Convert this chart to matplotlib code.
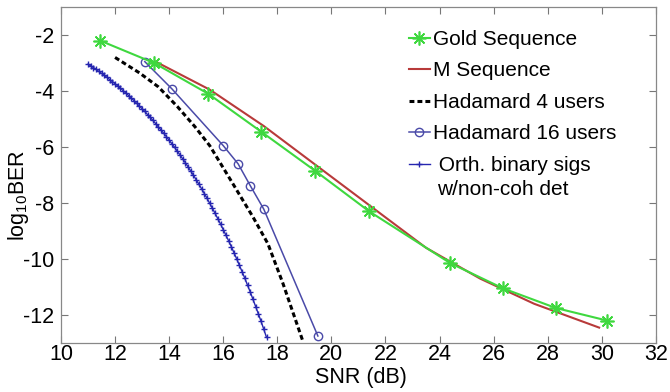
import matplotlib
matplotlib.use("Agg")
import matplotlib.pyplot as plt

plt.rcParams['font.family'] = ['Liberation Sans', 'DejaVu Sans']
plt.rcParams['mathtext.fontset'] = 'custom'
plt.rcParams['mathtext.rm'] = 'Liberation Sans'
plt.rcParams['axes.unicode_minus'] = False

# BER curves, log10 scale
gold_snr = [11.45, 13.45, 15.45, 17.4, 19.4, 21.4, 24.4, 26.35, 28.3, 30.2]
gold_ber = [-2.2, -3.0, -4.1, -5.45, -6.85, -8.3, -10.15, -11.05, -11.75, -12.2]

mseq_snr = [13.5, 15.5, 17.5, 19.5, 21.5, 23.5, 25.5, 27.5, 29.9]
mseq_ber = [-2.95, -3.95, -5.25, -6.7, -8.15, -9.6, -10.7, -11.6, -12.45]

had4_snr = [12.0, 12.9, 13.6, 14.3, 14.95, 15.5, 16.35, 17.1, 17.65, 18.2, 18.95]
had4_ber = [-2.8, -3.35, -3.85, -4.55, -5.27, -5.95, -7.3, -8.5, -9.45, -10.85, -12.95]

had16_snr = [13.1, 14.1, 16.0, 16.55, 17.0, 17.5, 19.5]
had16_ber = [-2.95, -3.92, -5.95, -6.6, -7.38, -8.22, -12.75]

orth_snr = [11.0, 11.1, 11.2, 11.3, 11.4, 11.5, 11.6, 11.7, 11.8, 11.9,
            12.0, 12.1, 12.2, 12.3, 12.4, 12.5, 12.6, 12.7, 12.8, 12.9,
            13.0, 13.1, 13.2, 13.3, 13.4, 13.5, 13.6, 13.7, 13.8, 13.9,
            14.0, 14.1, 14.2, 14.3, 14.4, 14.5, 14.6, 14.7, 14.8, 14.9,
            15.0, 15.1, 15.2, 15.3, 15.4, 15.5, 15.6, 15.7, 15.8, 15.9,
            16.0, 16.1, 16.2, 16.3, 16.4, 16.5, 16.6, 16.7, 16.8, 16.9,
            17.0, 17.1, 17.2, 17.3, 17.4, 17.5, 17.6]
orth_ber = [-3.04, -3.10, -3.16, -3.23, -3.30, -3.37, -3.44, -3.51, -3.59, -3.66,
            -3.74, -3.82, -3.90, -3.99, -4.07, -4.16, -4.25, -4.34, -4.44, -4.54,
            -4.63, -4.73, -4.84, -4.94, -5.05, -5.16, -5.28, -5.39, -5.51, -5.63,
            -5.76, -5.88, -6.01, -6.15, -6.28, -6.42, -6.56, -6.71, -6.86, -7.01,
            -7.17, -7.33, -7.49, -7.66, -7.83, -8.01, -8.19, -8.37, -8.56, -8.75,
            -8.95, -9.15, -9.35, -9.56, -9.78, -10.00, -10.23, -10.46, -10.69, -10.94,
            -11.18, -11.44, -11.70, -11.96, -12.23, -12.51, -12.80]

xticks = [10, 12, 14, 16, 18, 20, 22, 24, 26, 28, 30, 32]
yticks = [-12, -10, -8, -6, -4, -2]

green = '#3fd83f'
red = '#b83a3a'
h16_blue = '#4a4aa8'
orth_blue = '#2626b0'

fig = plt.figure(figsize=(6.7, 3.92), dpi=100)
ax = fig.add_axes([0.091, 0.125, 0.888, 0.857])

ax.plot(gold_snr, gold_ber, color=green, lw=1.5, marker=(8, 2, 0),
        ms=10, mew=1.2, label='Gold Sequence', zorder=4)
ax.plot(mseq_snr, mseq_ber, color=red, lw=1.5, label='M Sequence', zorder=3)
ax.plot(had4_snr, had4_ber, color='black', lw=2.2, ls=(0, (1.6, 1.0)),
        label='Hadamard 4 users')
ax.plot(had16_snr, had16_ber, color=h16_blue, lw=1.1, marker='o', ms=6,
        mfc='none', mew=1.0, label='Hadamard 16 users', zorder=3)
ax.plot(orth_snr, orth_ber, color=orth_blue, lw=1.0, marker='+', ms=5,
        mew=1.0, label=' Orth. binary sigs')

ax.set_xlim(10, 32)
ax.set_ylim(-13, -1)
ax.set_xticks(xticks)
ax.set_yticks(yticks)
ax.tick_params(direction='in', length=5, width=0.8, colors='#777777',
               labelcolor='black', labelsize=15.5, top=True, right=True)
ax.tick_params(axis='x', pad=0.5)
ax.tick_params(axis='y', pad=5)
for sp in ax.spines.values():
    sp.set_color('#888888')
    sp.set_linewidth(0.9)

ax.set_xlabel('SNR (dB)', fontsize=15.5)
ax.set_ylabel(r'log$_{\mathrm{10}}$BER', fontsize=15.5)
ax.xaxis.set_label_coords(0.504, -0.072)
ax.yaxis.set_label_coords(-0.05, 0.44)

leg = ax.legend(loc='upper left', bbox_to_anchor=(0.585, 0.932), frameon=False,
                fontsize=15, handlelength=1.0, handletextpad=0.15,
                labelspacing=0.6, borderpad=0, borderaxespad=0)
ax.text(0.632, 0.456, 'w/non-coh det', transform=ax.transAxes,
        fontsize=15, ha='left', va='center')

fig.savefig('out.png', dpi=100, facecolor='white')
